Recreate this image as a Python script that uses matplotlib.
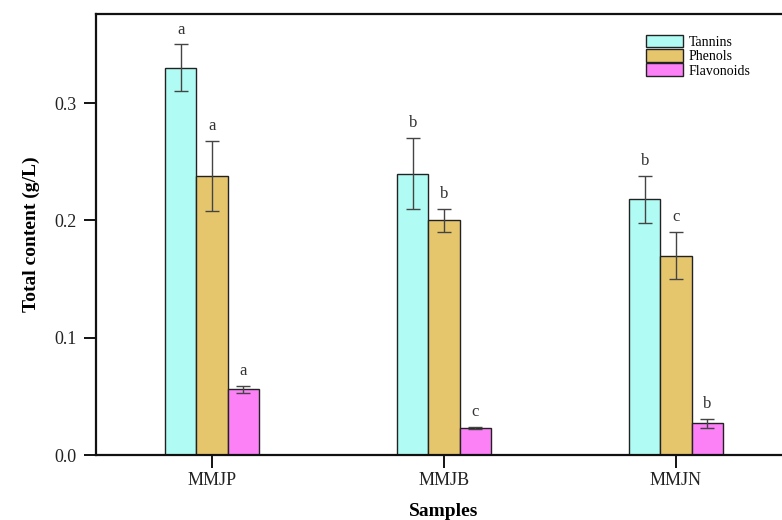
import matplotlib
matplotlib.use("Agg")
import matplotlib.pyplot as plt
import numpy as np

samples = ["MMJP", "MMJB", "MMJN"]
series = ["Tannins", "Phenols", "Flavonoids"]
tannins = [0.330, 0.240, 0.218]
tannins_err = [0.020, 0.030, 0.020]
phenols = [0.238, 0.200, 0.170]
phenols_err = [0.030, 0.010, 0.020]
flavonoids = [0.056, 0.023, 0.027]
flavonoids_err = [0.003, 0.001, 0.004]
tannins_letters = ["a", "b", "b"]
phenols_letters = ["a", "b", "c"]
flavonoids_letters = ["a", "c", "b"]

colors = ["#B0FCF4", "#E6C66C", "#FC80F6"]

plt.rcParams['font.family'] = ['Liberation Serif', 'DejaVu Serif']

fig = plt.figure(figsize=(7.82, 5.2), dpi=100)
ax = fig.add_axes([96/782, 1-455/520, 696/782, (455-14)/520])

x = np.arange(len(samples))
w = 0.135
data = [(tannins, tannins_err, tannins_letters),
        (phenols, phenols_err, phenols_letters),
        (flavonoids, flavonoids_err, flavonoids_letters)]
for i, (vals, errs, lets) in enumerate(data):
    pos = x + (i - 1) * w
    ax.bar(pos, vals, w, color=colors[i], edgecolor="#222222", linewidth=1.0,
           label=series[i], zorder=2)
    ax.errorbar(pos, vals, yerr=errs, fmt="none", ecolor="#444444",
                elinewidth=1.0, capsize=5, capthick=1.0, zorder=3)
    for p, v, e, l in zip(pos, vals, errs, lets):
        ax.annotate(l, (p, v + e), xytext=(0, 5), textcoords="offset points",
                    ha="center", va="bottom", fontsize=12, color="#333333")

ax.set_xlim(-0.5, 2.5)
ax.set_ylim(0, 0.376)
ax.set_xticks(x)
ax.set_xticklabels(samples, fontsize=13, color="#222222")
ax.set_yticks([0.0, 0.1, 0.2, 0.3])
ax.set_yticklabels(["0.0", "0.1", "0.2", "0.3"], fontsize=13, color="#222222")
ax.tick_params(axis="both", direction="out", length=9, width=1.3)
ax.tick_params(axis="x", pad=3)
ax.tick_params(axis="y", pad=5)
for s in ax.spines.values():
    s.set_linewidth(1.6)
    s.set_color("#111111")
ax.spines["right"].set_visible(False)

ax.set_xlabel("Samples", fontsize=14, fontweight="bold", labelpad=10)
ax.set_ylabel("Total content (g/L)", fontsize=14, fontweight="bold", labelpad=10)

leg = ax.legend(loc="upper left", bbox_to_anchor=(0.782, 0.966), frameon=False,
                fontsize=10, handlelength=2.7, handleheight=1.05,
                labelspacing=0.02, handletextpad=0.4, borderaxespad=0)

fig.savefig("out.png", dpi=100)
